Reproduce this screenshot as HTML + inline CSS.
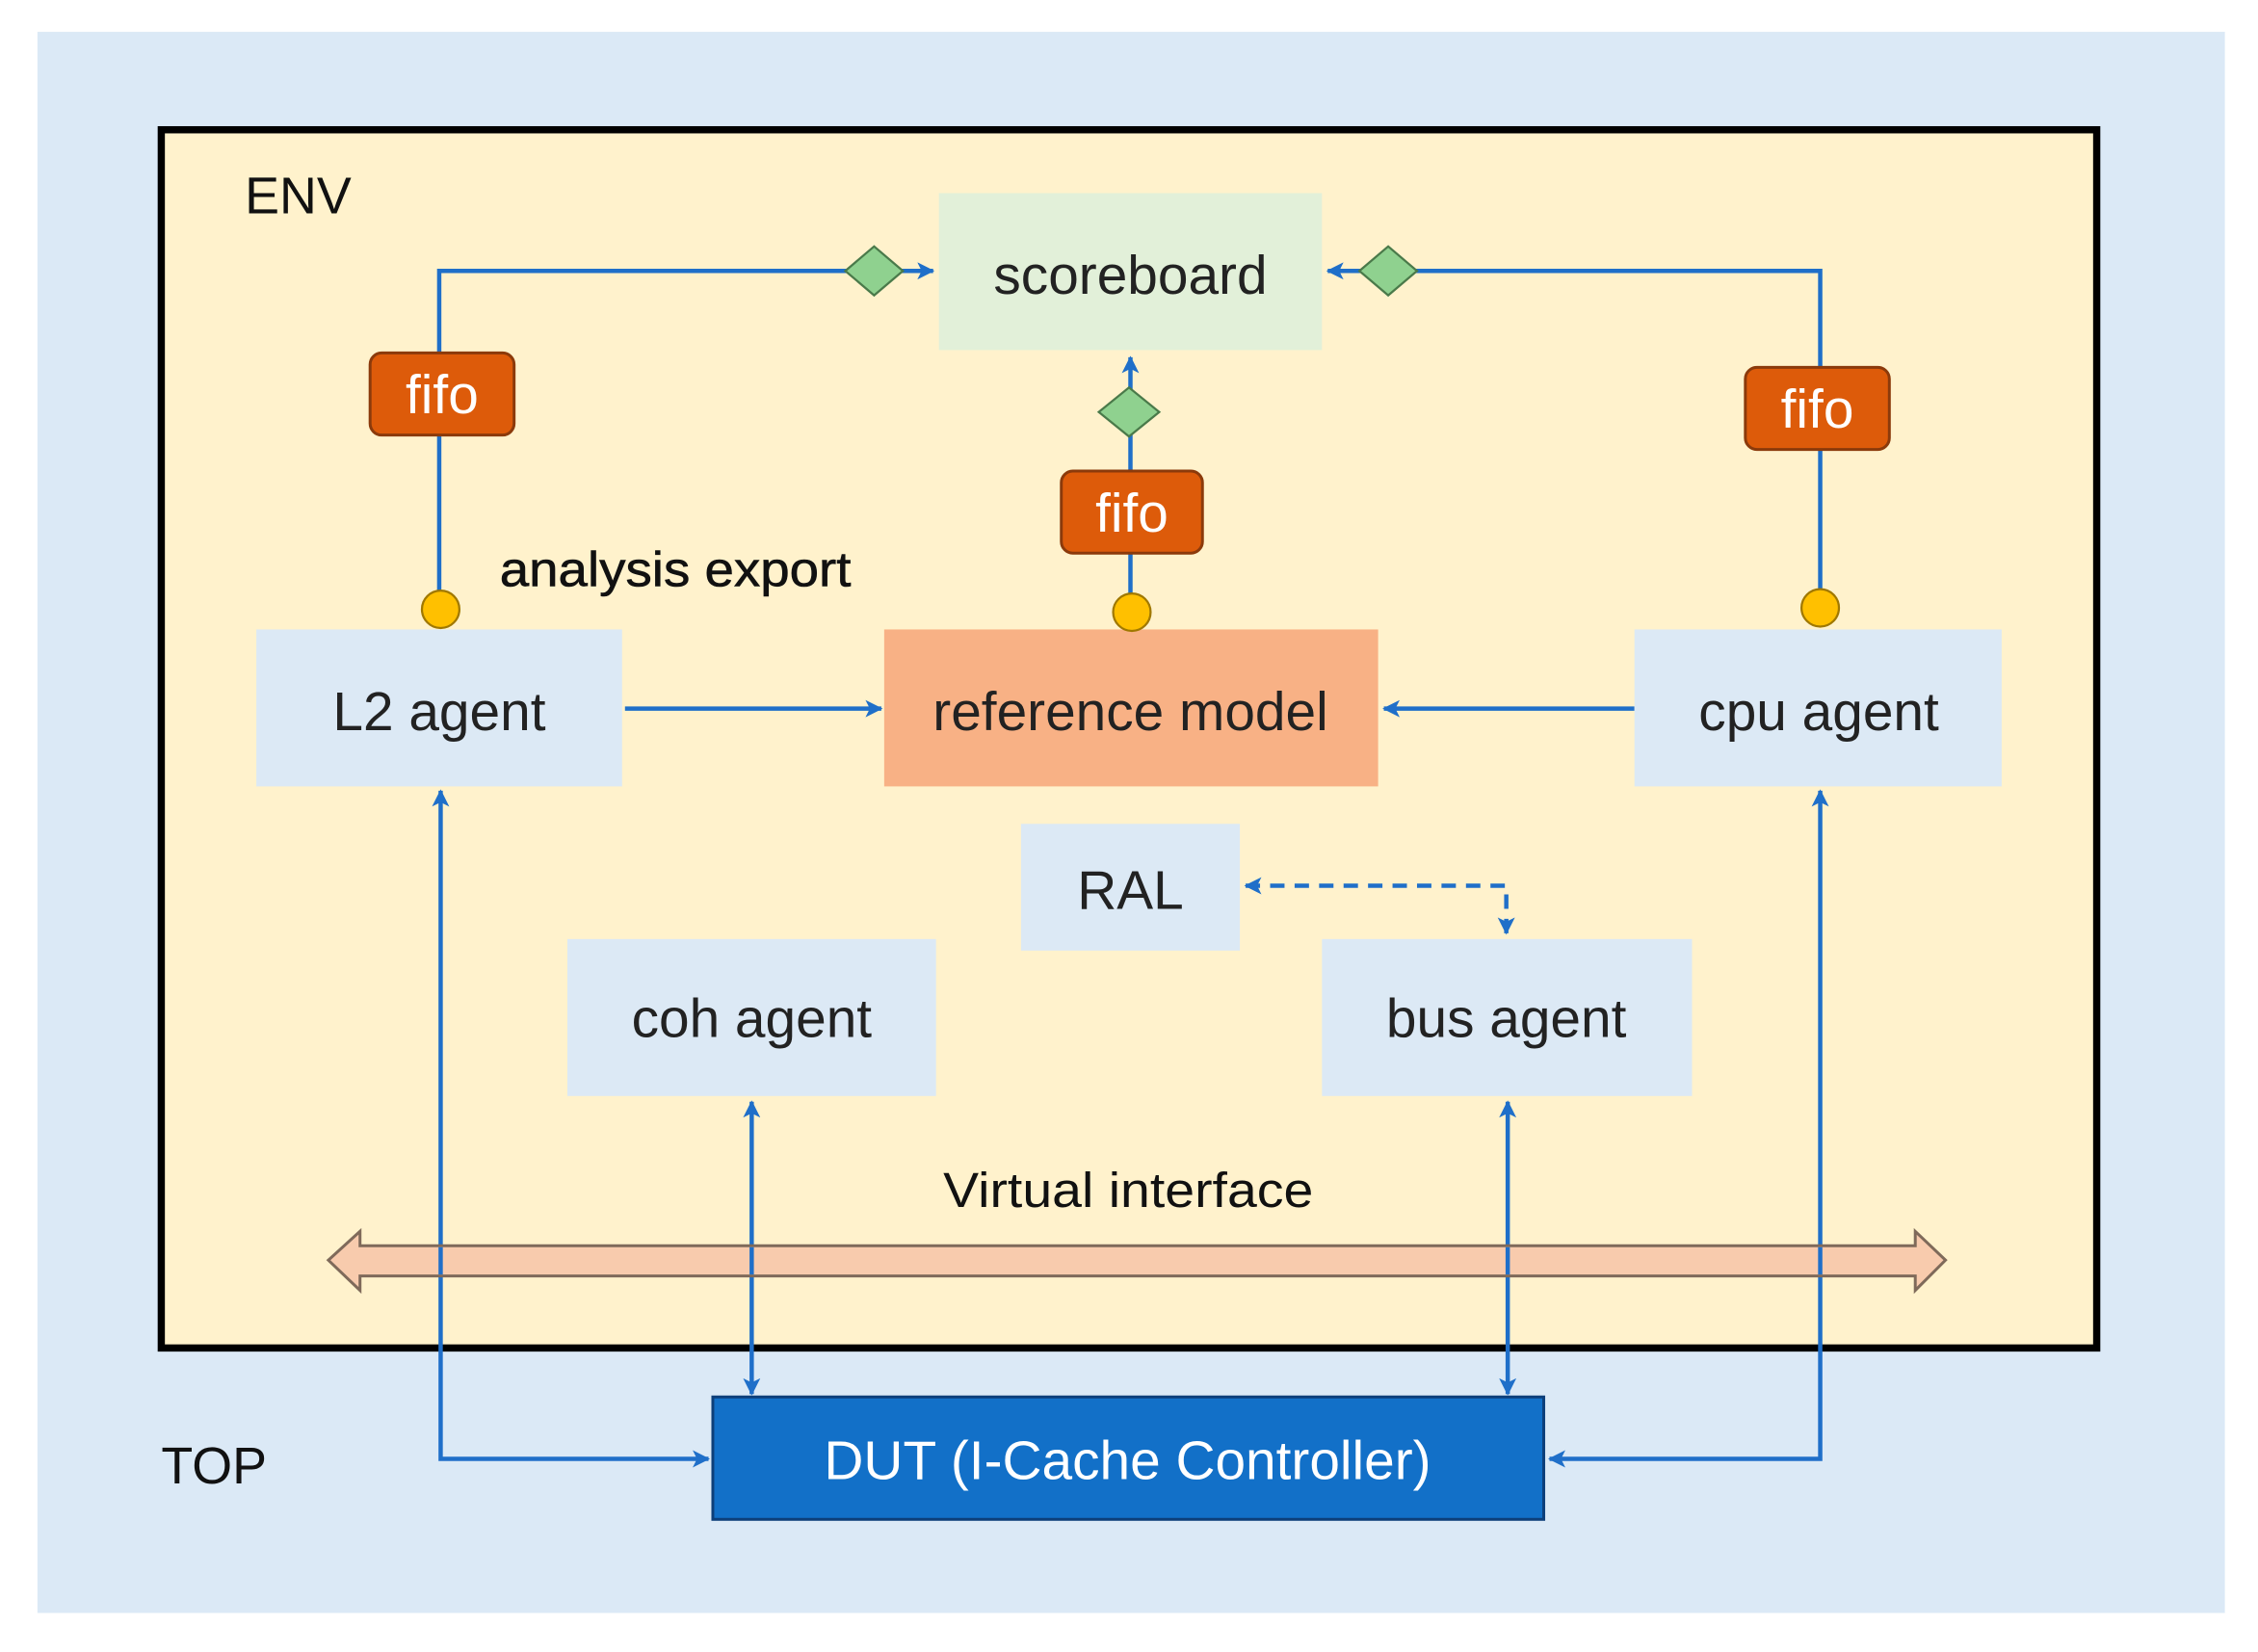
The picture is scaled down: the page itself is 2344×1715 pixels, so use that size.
<!DOCTYPE html>
<html><head><meta charset="utf-8"><style>html,body{margin:0;padding:0;background:#fff}svg{display:block}text{font-family:"Liberation Sans","Noto Sans CJK SC",sans-serif}</style></head>
<body>
<svg width="2344" height="1715" viewBox="0 0 1568 1147" xmlns="http://www.w3.org/2000/svg">
<defs>
<marker id="a" markerWidth="12" markerHeight="12" refX="11" refY="6" orient="auto-start-reverse" markerUnits="userSpaceOnUse"><path d="M0,0 L12,6 L0,12 L3,6 z" fill="#1f6fc9"/></marker>
</defs>
<rect x="0" y="0" width="1568" height="1147" fill="#fff"/>
<rect x="26" y="22" width="1519" height="1098" fill="#dbe9f6"/>
<rect x="112" y="90" width="1344" height="846" fill="#fff2cc" stroke="#000" stroke-width="5"/>
<text x="170" y="148" font-size="36" fill="#111">ENV</text>
<text x="112" y="1030" font-size="36" fill="#111">TOP</text>

<g stroke="#1f6fc9" stroke-width="3" fill="none">
<polyline points="305,410 305,188 648,188" marker-end="url(#a)"/>
<polyline points="1264,410 1264,188 922,188" marker-end="url(#a)"/>
<line x1="785" y1="412" x2="785" y2="248" marker-end="url(#a)"/>
<line x1="434" y1="492" x2="612" y2="492" marker-end="url(#a)"/>
<line x1="1135" y1="492" x2="961" y2="492" marker-end="url(#a)"/>
<polyline points="1046,648 1046,615 865,615" stroke-dasharray="10,7" marker-start="url(#a)" marker-end="url(#a)"/>
<polyline points="306,549 306,1013 492,1013" marker-start="url(#a)" marker-end="url(#a)"/>
<polyline points="1264,549 1264,1013 1076,1013" marker-start="url(#a)" marker-end="url(#a)"/>
<line x1="522" y1="765" x2="522" y2="968" marker-start="url(#a)" marker-end="url(#a)"/>
<line x1="1047" y1="765" x2="1047" y2="968" marker-start="url(#a)" marker-end="url(#a)"/>
</g>

<path d="M228,875 L250,855 L250,865 L1330,865 L1330,855 L1351,875 L1330,896 L1330,886 L250,886 L250,896 Z" fill="#f8cbad" stroke="#7f6a5a" stroke-width="2"/>
<g stroke="#1f6fc9" stroke-width="3">
<line x1="306" y1="866" x2="306" y2="885"/><line x1="1264" y1="866" x2="1264" y2="885"/>
<line x1="522" y1="866" x2="522" y2="885"/><line x1="1047" y1="866" x2="1047" y2="885"/>
</g>
<text x="655" y="838" font-size="34" textLength="257" lengthAdjust="spacingAndGlyphs" fill="#111">Virtual interface</text>

<rect x="652" y="134" width="266" height="109" fill="#e2f0d9"/>
<text x="785" y="204" font-size="38" text-anchor="middle" fill="#222">scoreboard</text>
<rect x="614" y="437" width="343" height="109" fill="#f8b185"/>
<text x="785" y="507" font-size="38" text-anchor="middle" fill="#222">reference model</text>
<g fill="#dce9f5">
<rect x="178" y="437" width="254" height="109"/>
<rect x="1135" y="437" width="255" height="109"/>
<rect x="709" y="572" width="152" height="88"/>
<rect x="394" y="652" width="256" height="109"/>
<rect x="918" y="652" width="257" height="109"/>
</g>
<g font-size="38" text-anchor="middle" fill="#222">
<text x="305" y="507">L2 agent</text>
<text x="1263" y="507">cpu agent</text>
<text x="785" y="631">RAL</text>
<text x="522" y="720">coh agent</text>
<text x="1046" y="720">bus agent</text>
</g>
<rect x="495" y="970" width="577" height="85" fill="#1270c8" stroke="#0d3f7a" stroke-width="2"/>
<text x="783" y="1027" font-size="38" text-anchor="middle" fill="#fff">DUT (I-Cache Controller)</text>

<g fill="#dd5b0a" stroke="#8b3a0b" stroke-width="2">
<rect x="257" y="245" width="100" height="57" rx="8"/>
<rect x="737" y="327" width="98" height="57" rx="8"/>
<rect x="1212" y="255" width="100" height="57" rx="8"/>
</g>
<g font-size="38" text-anchor="middle" fill="#fff">
<text x="307" y="287">fifo</text>
<text x="786" y="369">fifo</text>
<text x="1262" y="297">fifo</text>
</g>

<g fill="#8fd18f" stroke="#4a7a4a" stroke-width="1.5">
<path d="M587,188 L607,171 L627,188 L607,205 Z"/>
<path d="M944,188 L964,171 L984,188 L964,205 Z"/>
<path d="M763,286 L784,269 L805,286 L784,303 Z"/>
</g>
<g fill="#ffc000" stroke="#a07800" stroke-width="1.5">
<circle cx="306" cy="423" r="13"/>
<circle cx="786" cy="425" r="13"/>
<circle cx="1264" cy="422" r="13"/>
</g>
<text x="347" y="407" font-size="34" textLength="244" lengthAdjust="spacingAndGlyphs" fill="#111" stroke="#111" stroke-width="0.4">analysis export</text>
</svg>
</body></html>
